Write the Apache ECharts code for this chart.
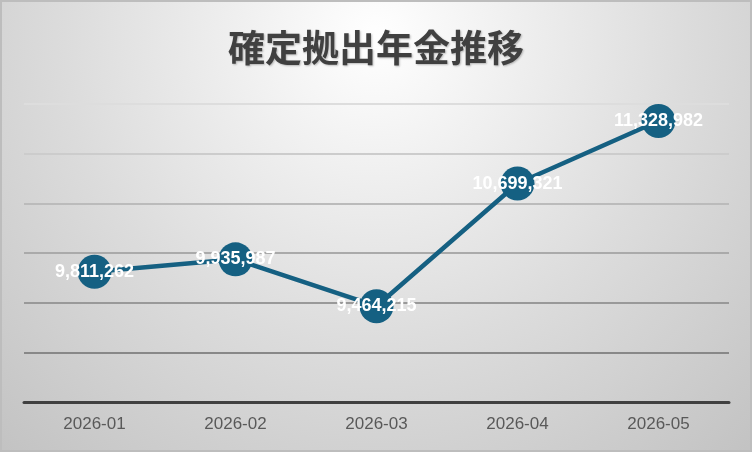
<!DOCTYPE html>
<html><head><meta charset="utf-8">
<script src="https://cdn.jsdelivr.net/npm/echarts@6/dist/echarts.min.js"></script>
<style>html,body{margin:0;padding:0;}#c{width:752px;height:452px;}</style>
</head><body><div id="c"></div>
<script>
const categories = ['2026-01','2026-02','2026-03','2026-04','2026-05'];
const values = [9811262, 9935987, 9464215, 10699321, 11328982];
const titleText = '確定拠出年金推移';

const chart = echarts.init(document.getElementById('c'));
chart.setOption({
  backgroundColor: new echarts.graphic.RadialGradient(0.5, 0.08, 1.25, [
    {offset: 0, color: '#ffffff'},
    {offset: 0.55, color: '#dcdcdc'},
    {offset: 1, color: '#c2c2c2'}
  ]),
  animation: false,
  title: {
    text: titleText, left: 'center', top: 24,
    textStyle: {fontFamily: 'Noto Sans CJK JP', fontWeight: 'bold', fontSize: 37, color: '#404040',
      textShadowColor: 'rgba(0,0,0,0.25)', textShadowBlur: 2, textShadowOffsetX: 1, textShadowOffsetY: 1}
  },
  graphic: [{type: 'rect', shape: {x: 1, y: 1, width: 750, height: 450}, style: {fill: 'none', stroke: '#bdbdbd', lineWidth: 2}, silent: true}],
  grid: {left: 24, right: 23, top: 104, bottom: 50, containLabel: false},
  xAxis: {
    type: 'category', data: categories, boundaryGap: true,
    axisLine: {lineStyle: {color: '#404040', width: 3}},
    axisTick: {show: false},
    axisLabel: {color: '#595959', fontSize: 17, fontFamily: 'Liberation Sans', margin: 14}
  },
  yAxis: {
    type: 'value', min: 8500000, max: 11500000, interval: 500000,
    axisLabel: {show: false}, axisLine: {show: false}, axisTick: {show: false},
    splitLine: {lineStyle: {width: 2, color: ['#888888','#888888','#999999','#aaaaaa','#bbbbbb','#cccccc','#dddddd']}}
  },
  series: [{
    type: 'line', data: values,
    symbol: 'circle', symbolSize: 34,
    lineStyle: {color: '#156082', width: 4.5},
    itemStyle: {color: '#156082'},
    label: {show: true, position: 'inside', color: '#ffffff', fontWeight: 'bold', fontSize: 18, fontFamily: 'Liberation Sans',
      formatter: p => p.value.toLocaleString('en-US')}
  }]
});
</script></body></html>
